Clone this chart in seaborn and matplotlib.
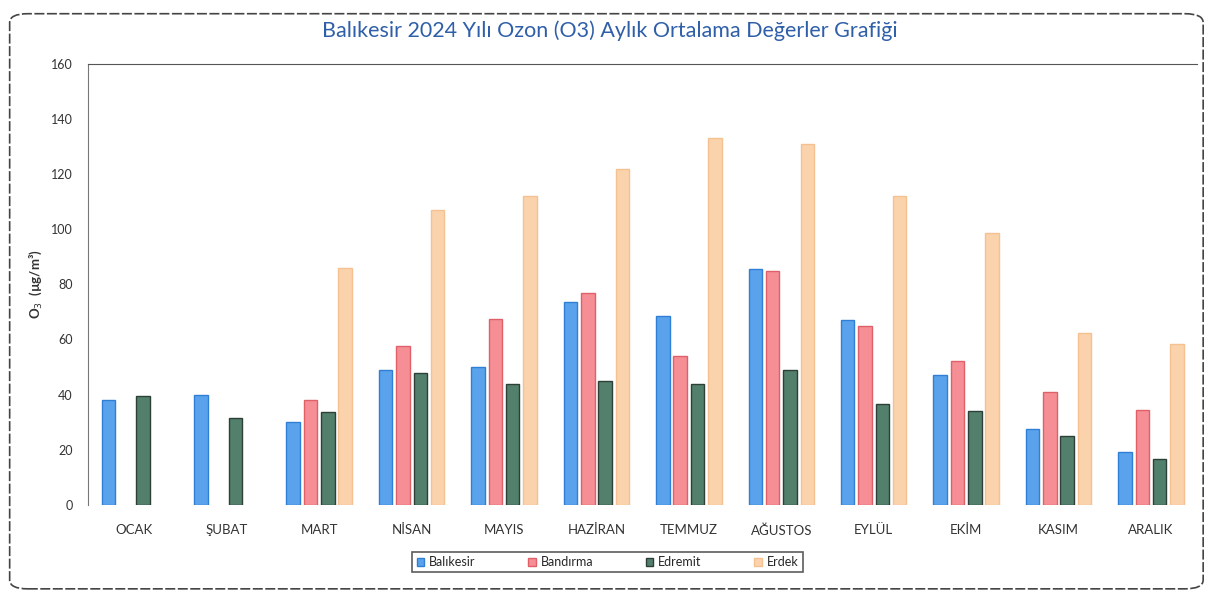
import numpy as np
import pandas as pd
import matplotlib.pyplot as plt
import seaborn as sns
from matplotlib.patches import FancyBboxPatch

months = ["OCAK", "ŞUBAT", "MART", "NİSAN", "MAYIS", "HAZİRAN",
          "TEMMUZ", "AĞUSTOS", "EYLÜL", "EKİM", "KASIM", "ARALIK"]
balikesir = [38, 40, 30, 49, 50, 73.5, 68.5, 85.5, 67, 47, 27.5, 19]
bandirma = [np.nan, np.nan, 38, 57.5, 67.5, 77, 54, 85, 65, 52, 41, 34.5]
edremit = [39.5, 31.5, 33.5, 48, 44, 45, 44, 49, 36.5, 34, 25, 16.5]
erdek = [np.nan, np.nan, 86, 107, 112, 122, 133, 131, 112, 98.5, 62.5, 58.5]

stations = ["Balıkesir", "Bandırma", "Edremit", "Erdek"]
colors = ["#5aa2ec", "#f58f95", "#52806c", "#fad3ad"]
edges = ["#2f7fd6", "#e0606a", "#2d3f36", "#f6c190"]

df = pd.DataFrame({"Ay": months, "Balıkesir": balikesir, "Bandırma": bandirma,
                   "Edremit": edremit, "Erdek": erdek})
long = df.melt(id_vars="Ay", var_name="İstasyon", value_name="O3")

sns.set_style("white")
plt.rcParams["font.family"] = ["Lato", "DejaVu Sans"]

fig = plt.figure(figsize=(12.08, 5.96), dpi=100)
ax = fig.add_axes([0.073, 0.153, 0.918, 0.74])

sns.barplot(data=long, x="Ay", y="O3", hue="İstasyon", order=months,
            hue_order=stations, palette=colors, width=0.75, gap=0.22,
            saturation=1, ax=ax, legend=False)

for i, cont in enumerate(ax.containers):
    for bar in cont:
        bar.set_edgecolor(edges[i])
        bar.set_linewidth(1.0)

ax.set_ylim(0, 160)
ax.set_yticks(range(0, 161, 20))
ax.set_xlim(-0.5, 11.5)
ax.tick_params(axis="y", labelsize=9, length=0, pad=11, colors="#333333")
ax.tick_params(axis="x", labelsize=9.5, length=0, pad=14, colors="#333333")
ax.set_xlabel("")
ax.set_ylabel("O$_3$  (µg/m³)", fontsize=9.5, fontweight="bold", color="#333333", labelpad=5)
for side in ["right", "bottom"]:
    ax.spines[side].set_visible(False)
ax.spines["left"].set_color("#777777")
ax.spines["left"].set_linestyle((0, (4, 1)))
ax.spines["top"].set_color("#555555")

fig.suptitle("Balıkesir 2024 Yılı Ozon (O3) Aylık Ortalama Değerler Grafiği",
             x=0.505, y=0.965, fontsize=15.5, color="#2f5fa8")

handles = [plt.Rectangle((0, 0), 1, 1, facecolor=c, edgecolor=e) for c, e in zip(colors, edges)]
leg = fig.legend(handles, stations, loc="center", bbox_to_anchor=(0.503, 0.057),
                 ncol=4, fontsize=9, frameon=True, fancybox=False, handlelength=0.6,
                 handleheight=0.6, columnspacing=4.2, handletextpad=0.4,
                 borderpad=0.35, borderaxespad=0)
leg.get_frame().set_edgecolor("#333333")
leg.get_frame().set_linewidth(1.2)

border = FancyBboxPatch((0.008, 0.012), 0.988, 0.965, transform=fig.transFigure,
                        boxstyle="round,pad=0,rounding_size=0.015", fill=False,
                        edgecolor="#444444", linewidth=1.2, linestyle=(0, (6, 1.5)))
fig.patches.append(border)

fig.savefig("out.png", dpi=100)
